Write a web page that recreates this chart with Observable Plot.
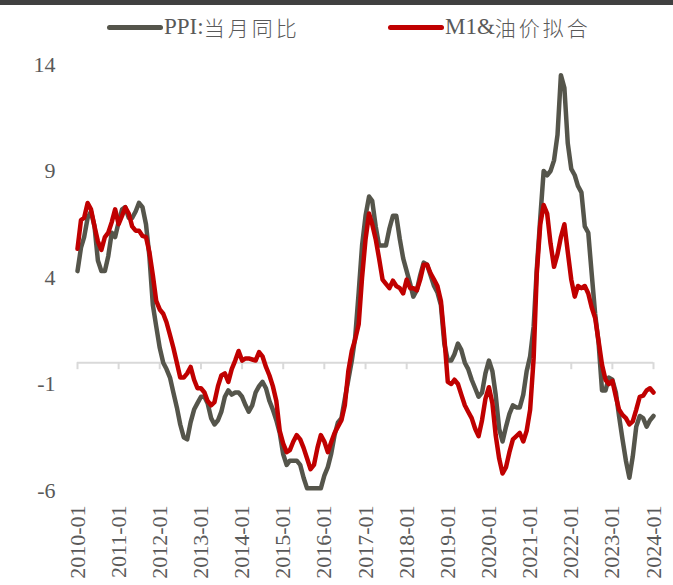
<!DOCTYPE html>
<html>
<head>
<meta charset="utf-8">
<script src="https://cdn.jsdelivr.net/npm/d3@7"></script>
<script src="https://cdn.jsdelivr.net/npm/@observablehq/plot@0.6"></script>
<style>
  html, body { margin: 0; padding: 0; background: #fff; overflow: hidden; }
  #wrap { width: 673px; height: 585px; position: relative; }
  #topbar { height: 5px; background: #404040; }
  #legend { position: relative; height: 45px; font-family: "Liberation Serif", "Times New Roman", "Noto Sans CJK SC", serif; font-size: 23px; color: #595959; }
  .item { position: absolute; top: 4px; height: 36px; display: flex; align-items: center; white-space: nowrap; }
  .sw { display: inline-block; width: 56px; height: 5px; border-radius: 3px; margin-right: 1px; }
  .cjk { font-family: "Noto Sans CJK SC", sans-serif; font-size: 21px; font-weight: 300; letter-spacing: 3px; }
</style>
</head>
<body>
<div id="wrap">
  <div id="topbar"></div>
  <div id="legend">
    <div class="item" style="left:107px"><span class="sw" style="background:#55554b"></span><span>PPI:</span><span class="cjk">当月同比</span></div>
    <div class="item" style="left:388px"><span class="sw" style="background:#c00000"></span><span>M1&amp;</span><span class="cjk">油价拟合</span></div>
  </div>
  <div id="chart"></div>
</div>
<script>
// Series names
const seriesNames = ["PPI:当月同比", "M1&油价拟合"];
const startYear = 2010;

// PPI: 当月同比 (monthly, 2010-01 .. 2024-01)
const ppi = [
  4.3, 5.4, 5.9, 6.8, 7.1, 6.4, 4.8, 4.3, 4.3, 5.0, 6.1, 5.9,
  6.6, 7.2, 7.3, 6.8, 6.8, 7.1, 7.5, 7.3, 6.5, 5.0, 2.7, 1.7,
  0.7, 0.0, -0.3, -0.7, -1.4, -2.1, -2.9, -3.5, -3.6, -2.8, -2.2, -1.9,
  -1.6, -1.6, -1.9, -2.6, -2.9, -2.7, -2.3, -1.6, -1.3, -1.5, -1.4, -1.4,
  -1.6, -2.0, -2.3, -2.0, -1.4, -1.1, -0.9, -1.2, -1.8, -2.2, -2.7, -3.3,
  -4.3, -4.8, -4.6, -4.6, -4.6, -4.8, -5.4, -5.9, -5.9, -5.9, -5.9, -5.9,
  -5.3, -4.9, -4.3, -3.4, -2.8, -2.6, -1.7, -0.8, 0.1, 1.2, 3.3, 5.5,
  6.9, 7.8, 7.6, 6.4, 5.5, 5.5, 5.5, 6.3, 6.9, 6.9, 5.8, 4.9,
  4.3, 3.7, 3.1, 3.4, 4.1, 4.7, 4.6, 4.1, 3.6, 3.3, 2.7, 0.9,
  0.1, 0.1, 0.4, 0.9, 0.6, 0.0, -0.3, -0.8, -1.2, -1.6, -1.4, -0.5,
  0.1, -0.4, -1.5, -3.1, -3.7, -3.0, -2.4, -2.0, -2.1, -2.1, -1.5, -0.4,
  0.3, 1.7, 4.4, 6.8, 9.0, 8.8, 9.0, 9.5, 10.7, 13.5, 12.9, 10.3,
  9.1, 8.8, 8.3, 8.0, 6.4, 6.1, 4.2, 2.3, 0.9, -1.3, -1.3, -0.7,
  -0.8, -1.4, -2.5, -3.6, -4.6, -5.4, -4.4, -3.0, -2.5, -2.6, -3.0, -2.7,
  -2.5
];

// M1 & 油价拟合 (monthly, 2010-01 .. 2024-01)
const fit = [
  5.35, 6.7, 6.8, 7.5, 7.2, 6.4, 5.7, 5.3, 5.9, 6.1, 6.6, 7.2,
  6.5, 6.9, 7.3, 7.0, 6.4, 6.2, 6.2, 5.95, 5.9, 5.2, 4.1, 2.9,
  2.5, 2.3, 1.9, 1.3, 0.7, 0.0, -0.7, -0.7, -0.5, -0.2, -0.8, -1.2,
  -1.2, -1.4, -1.8, -2.0, -1.85, -1.1, -0.6, -0.5, -0.9, -0.3, 0.1, 0.55,
  0.1, 0.2, 0.2, 0.15, 0.1, 0.5, 0.3, -0.2, -0.6, -1.1, -1.8, -3.2,
  -3.8, -4.2, -4.1, -3.7, -3.4, -3.6, -4.0, -4.5, -5.0, -4.8, -4.0, -3.4,
  -3.7, -4.2, -3.75, -3.3, -3.0, -2.7, -2.0, -0.4, 0.55, 1.1, 1.8, 4.0,
  5.8, 7.0, 6.5, 5.8, 4.9, 3.9, 3.7, 3.5, 3.85, 3.6, 3.5, 3.25,
  3.9, 3.5, 3.5, 3.4, 3.9, 4.6, 4.6, 4.2, 3.9, 3.6, 2.9, 1.2,
  -0.9, -1.0, -0.8, -1.0, -1.5, -2.0, -2.3, -2.6, -3.1, -3.45, -2.7, -1.7,
  -1.15, -1.9, -3.4, -4.5, -5.2, -4.9, -4.2, -3.6, -3.45, -3.3, -3.7, -3.2,
  -2.2, 0.2, 4.2, 6.5, 7.4, 7.0, 5.6, 4.5, 5.1, 5.9, 6.5, 5.2,
  3.9, 3.1, 3.6, 3.5, 3.6, 3.25, 2.6, 2.1, 1.0, -0.1, -0.8, -1.0,
  -0.85, -1.6, -2.2, -2.45, -2.6, -2.9, -2.75, -2.2, -1.6, -1.55, -1.3, -1.2,
  -1.4
];

const yTicks = [14, 9, 4, -1, -6];
const xTickLabels = ["2010-01","2011-01","2012-01","2013-01","2014-01","2015-01","2016-01","2017-01","2018-01","2019-01","2020-01","2021-01","2022-01","2023-01","2024-01"];

const monthDate = (i) => new Date(Date.UTC(startYear, i, 1));
const parseYM = d3.utcParse("%Y-%m");
const xTicks = xTickLabels.map(parseYM);

const ppiData = ppi.map((v, i) => ({date: monthDate(i), value: v}));
const fitData = fit.map((v, i) => ({date: monthDate(i), value: v}));

const chart = Plot.plot({
  width: 673,
  height: 535,
  marginLeft: 77,
  marginRight: 20,
  marginTop: 14,
  marginBottom: 95,
  style: {fontFamily: "'Liberation Serif', 'Times New Roman', serif", fontSize: "22px", color: "#595959", background: "#fff"},
  x: {type: "utc", domain: [xTicks[0], xTicks[xTicks.length - 1]]},
  y: {domain: [-6, 14]},
  marks: [
    Plot.ruleY([0], {stroke: "#d9d9d9", strokeWidth: 2}),
    Plot.ruleX(xTicks, {x: d => d, y1: 0, y2: 0, insetBottom: -7, stroke: "#d9d9d9", strokeWidth: 2}),
    Plot.axisY({ticks: yTicks, tickSize: 0, tickPadding: 22, tickFormat: d => String(d), fontSize: 22, label: null}),
    Plot.axisX({ticks: xTicks, tickSize: 0, tickPadding: 15, tickRotate: -90, tickFormat: d3.utcFormat("%Y-%m"), fontSize: 22, label: null}),
    Plot.line(ppiData, {x: "date", y: "value", stroke: "#55554b", strokeWidth: 4.5, strokeLinejoin: "round", strokeLinecap: "round"}),
    Plot.line(fitData, {x: "date", y: "value", stroke: "#c00000", strokeWidth: 4.5, strokeLinejoin: "round", strokeLinecap: "round"})
  ]
});
document.getElementById("chart").appendChild(chart);
</script>
</body>
</html>
